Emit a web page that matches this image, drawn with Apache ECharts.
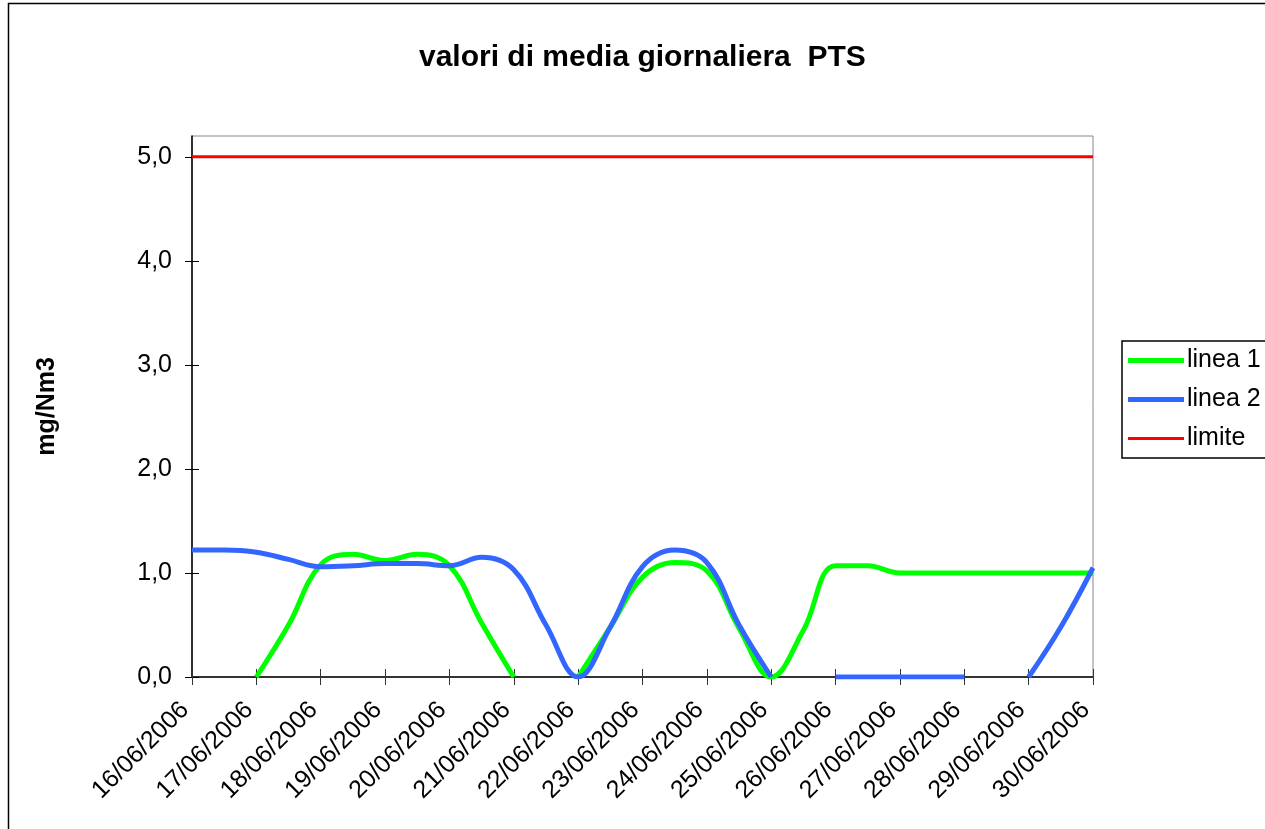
<!DOCTYPE html>
<html>
<head>
<meta charset="utf-8">
<script src="https://cdn.jsdelivr.net/npm/echarts@6/dist/echarts.min.js"></script>
<style>
  html, body { margin: 0; padding: 0; background: #fff; }
  #main { width: 1265px; height: 829px; }
</style>
</head>
<body>
<div id="main"></div>
<script>
// giorni sull'asse x
const days = ['16/06/2006', '17/06/2006', '18/06/2006', '19/06/2006', '20/06/2006',
  '21/06/2006', '22/06/2006', '23/06/2006', '24/06/2006', '25/06/2006',
  '26/06/2006', '27/06/2006', '28/06/2006', '29/06/2006', '30/06/2006'];

// letture ogni mezza giornata (29 punti), null = dato mancante
const linea1 = [0, null, 0, 0.5, 1.08, 1.18, 1.12, 1.18, 1.07, 0.52,
  0, null, 0, 0.48, 0.96, 1.1, 1.02, 0.47, 0, 0.45,
  1.07, 1.07, 1.0, 1.0, 1.0, 1.0, 1.0, 1.0, 1.0];
const linea2 = [1.22, 1.22, 1.2, 1.13, 1.06, 1.07, 1.09, 1.09, 1.07, 1.15,
  1.03, 0.5, 0, 0.48, 1.06, 1.22, 1.1, 0.5, 0, null,
  0, 0, 0, 0, 0, null, 0, 0.48, 1.05];
const limite = [5, 5, 5, 5, 5, 5, 5, 5, 5, 5,
  5, 5, 5, 5, 5, 5, 5, 5, 5, 5,
  5, 5, 5, 5, 5, 5, 5, 5, 5];

const yTicks = [0, 1, 2, 3, 4, 5];

const font = 'Liberation Sans, Arial, sans-serif';
const pts = arr => arr.map((v, i) => [i / 2, v]);
const fmtY = v => v.toFixed(1).replace('.', ',');

let myChart = echarts.init(document.getElementById('main'));
let option = {
  backgroundColor: '#fff',
  animation: false,
  title: {
    text: 'valori di media giornaliera  PTS',
    left: 414,
    top: 38,
    textStyle: { fontFamily: font, fontSize: 30, fontWeight: 'bold', color: '#000' }
  },
  graphic: [{
    type: 'rect',
    left: 6, top: 1,
    shape: { width: 1300, height: 900 },
    style: { fill: 'none', stroke: '#000', lineWidth: 1.5 },
    silent: true
  }],
  legend: {
    orient: 'vertical',
    left: 1122,
    top: 341,
    itemWidth: 56,
    itemHeight: 26,
    itemGap: 14,
    padding: [7, 40, 7, 6],
    borderColor: '#000',
    borderWidth: 1.5,
    textStyle: { fontFamily: font, fontSize: 25, color: '#000', padding: [0, 0, 0, -2] },
    data: [
      { name: 'linea 1', icon: 'path://M0,0H56V5H0Z' },
      { name: 'linea 2', icon: 'path://M0,0H56V5H0Z' },
      { name: 'limite', icon: 'path://M0,0H56V3H0Z' }
    ]
  },
  grid: {
    left: 192, top: 136, right: 172, bottom: 152,
    show: true,
    borderColor: '#888',
    borderWidth: 1
  },
  xAxis: [{
    type: 'value',
    min: 0, max: 14, interval: 1,
    axisLine: { onZero: false, lineStyle: { color: '#333', width: 2 } },
    axisTick: { show: true, length: 8, lineStyle: { color: '#333' } },
    axisLabel: {
      rotate: 45, margin: 22, padding: [0, 10, 0, 0],
      fontFamily: font, fontSize: 25, color: '#000',
      formatter: v => days[v] || ''
    },
    splitLine: { show: false }
  }, {
    type: 'value',
    min: 0, max: 14, interval: 1,
    position: 'bottom',
    axisLine: { show: false },
    axisTick: { show: true, inside: true, length: 8, lineStyle: { color: '#333' } },
    axisLabel: { show: false },
    splitLine: { show: false }
  }],
  yAxis: [{
    type: 'value',
    min: 0, max: 5.2,
    name: 'mg/Nm3',
    nameLocation: 'middle',
    nameGap: 132,
    nameTextStyle: { fontFamily: font, fontSize: 25, fontWeight: 'bold', color: '#000' },
    axisLine: { show: true, lineStyle: { color: '#000', width: 1.5 } },
    axisTick: { show: true, length: 7, customValues: yTicks, lineStyle: { color: '#000' } },
    axisLabel: {
      margin: 20, customValues: yTicks,
      fontFamily: font, fontSize: 25, color: '#000',
      formatter: fmtY
    },
    splitLine: { show: false }
  }, {
    type: 'value',
    min: 0, max: 5.2,
    position: 'left',
    axisLine: { show: false },
    axisTick: { show: true, inside: true, length: 7, customValues: yTicks, lineStyle: { color: '#000' } },
    axisLabel: { show: false },
    splitLine: { show: false }
  }],
  series: [
    {
      name: 'linea 1', type: 'line', symbol: 'none', smooth: 0.4,
      data: pts(linea1),
      lineStyle: { color: '#00ff00', width: 5 },
      itemStyle: { color: '#00ff00' }
    },
    {
      name: 'linea 2', type: 'line', symbol: 'none', smooth: 0.4,
      data: pts(linea2),
      lineStyle: { color: '#3366ff', width: 5 },
      itemStyle: { color: '#3366ff' }
    },
    {
      name: 'limite', type: 'line', symbol: 'none',
      data: pts(limite),
      lineStyle: { color: '#ff0000', width: 3 },
      itemStyle: { color: '#ff0000' }
    }
  ]
};
myChart.setOption(option);
</script>
</body>
</html>
